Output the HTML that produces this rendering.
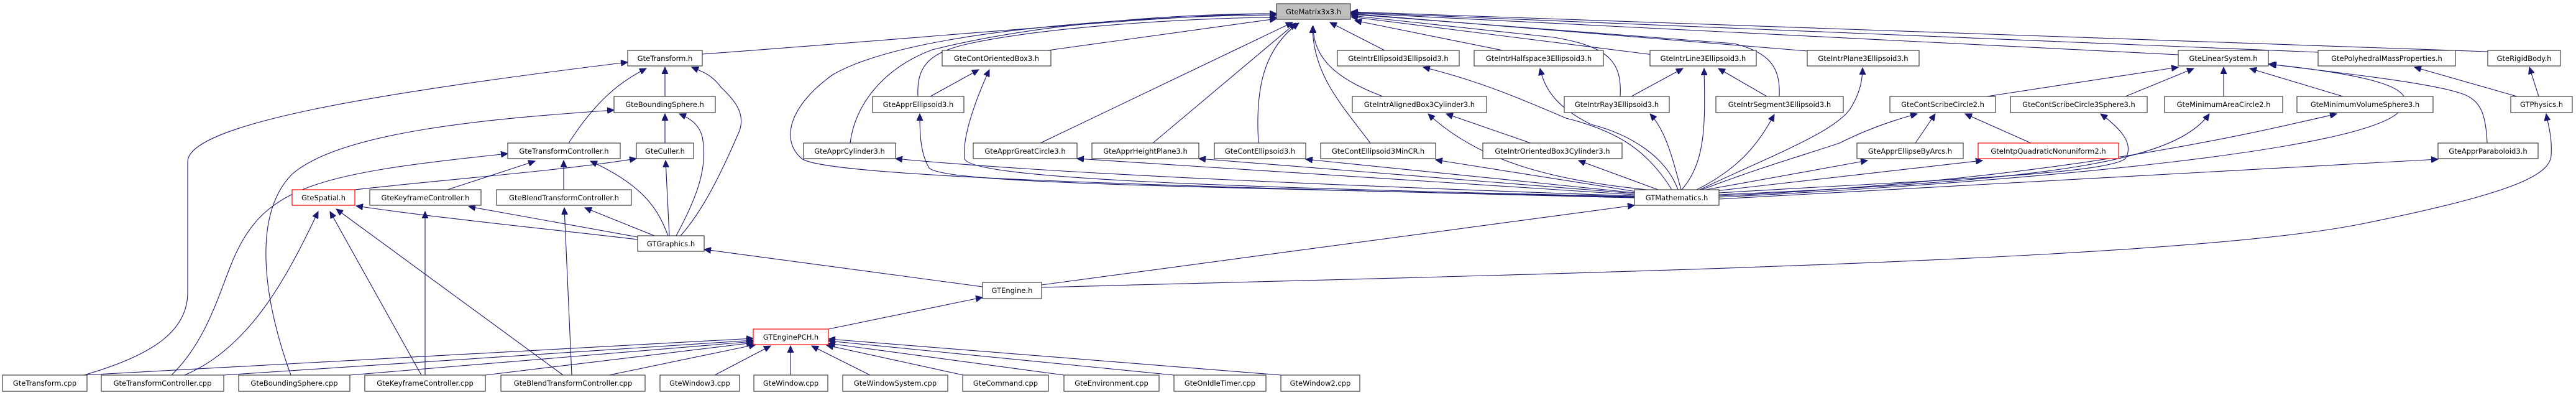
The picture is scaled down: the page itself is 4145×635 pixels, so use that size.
<!DOCTYPE html>
<html><head><meta charset="utf-8"><style>
html,body{margin:0;padding:0;background:#fff;}
svg{display:block;}
text{font-family:"DejaVu Sans","Liberation Sans",sans-serif;font-size:11.5px;fill:#000;}
.e{fill:none;stroke:#191970;stroke-width:1.1;}
rect{fill:#fff;stroke:#404040;stroke-width:1.2;}
</style></head><body>
<svg width="4145" height="635" viewBox="0 0 4145 635" xmlns="http://www.w3.org/2000/svg">
<defs><marker id="a" markerUnits="userSpaceOnUse" markerWidth="12" markerHeight="10" refX="11" refY="5" orient="auto"><path d="M0,0 L11,5 L0,10 Z" fill="#191970" stroke="#191970"/></marker></defs>
<g class="e" marker-end="url(#a)">
<path d="M1130,87 C1500,60 1900,22 2054,22"/>
<path d="M2630,318 C1900,300 1330,285 1290,255 C1255,225 1270,170 1340,120 C1480,40 1900,25 2054,24"/>
<path d="M1368,230 C1375,170 1420,110 1500,80 C1700,30 1950,22 2054,22"/>
<path d="M1686,81 L2054,30"/>
<path d="M1477,155 C1475,110 1490,85 1560,70 C1700,40 1950,28 2054,28"/>
<path d="M1674,230 L2080,36"/>
<path d="M1855,230 L2085,37"/>
<path d="M2025,230 C2020,150 2030,80 2090,37"/>
<path d="M2225,155 C2160,130 2113,100 2113,42"/>
<path d="M2205,230 C2160,170 2112,120 2112,42"/>
<path d="M2228,81 L2140,36"/>
<path d="M2418,81 L2180,33"/>
<path d="M2660,88 L2174,27"/>
<path d="M2607,155 C2610,100 2590,75 2500,60 L2174,25"/>
<path d="M2863,155 C2865,110 2850,85 2790,70 L2174,23"/>
<path d="M2908,82 L2174,22"/>
<path d="M3505,88 L2174,21"/>
<path d="M3730,84 L2174,20"/>
<path d="M4003,83 L2174,19"/>
<path d="M2630,315 C2200,300 1700,280 1441,255"/>
<path d="M2630,313 L1733,255"/>
<path d="M2630,311 L1929,255"/>
<path d="M2632,310 L2101,256"/>
<path d="M2633,308 L2310,257"/>
<path d="M2668,305 L2540,258"/>
<path d="M2650,305 C2500,290 2380,260 2298,183"/>
<path d="M2690,305 C2650,240 2600,210 2520,190 C2450,160 2380,130 2290,108"/>
<path d="M2700,305 C2680,250 2620,215 2560,200 C2500,170 2485,140 2478,110"/>
<path d="M2705,305 C2690,250 2680,210 2655,183"/>
<path d="M2706,305 C2745,260 2744,200 2742,110"/>
<path d="M2730,305 C2800,270 2830,230 2855,184"/>
<path d="M2735,305 C2850,250 2960,210 2980,170 C2992,150 2997,130 2997,109"/>
<path d="M2738,305 C2830,270 2900,250 2960,230 C3000,210 3040,195 3085,183"/>
<path d="M2745,305 L3005,258"/>
<path d="M2760,307 L3190,258"/>
<path d="M2766,310 C3100,290 3390,280 3420,255 C3435,230 3410,205 3380,183"/>
<path d="M2766,313 C3300,290 3500,260 3555,183"/>
<path d="M2766,315 C3300,290 3600,220 3760,183"/>
<path d="M2766,317 C3300,290 3800,240 3860,180 C3890,150 3860,125 3650,103"/>
<path d="M2766,320 L3923,256"/>
<path d="M2630,316 C1900,300 1560,285 1552,255 C1548,220 1570,160 1592,112"/>
<path d="M2630,317 C1900,300 1520,295 1495,270 C1480,245 1480,210 1480,183"/>
<path d="M1676,458 L2630,330"/>
<path d="M3197,155 L3505,108"/>
<path d="M3420,155 L3530,110"/>
<path d="M3578,155 L3578,108"/>
<path d="M3770,155 L3620,110"/>
<path d="M4002,230 C4000,180 3990,160 3960,150 C3900,130 3700,110 3652,103"/>
<path d="M4050,155 L3885,108"/>
<path d="M4085,155 L4070,108"/>
<path d="M1676,462 C2500,440 3500,420 3800,360 C4050,310 4103,280 4105,250 C4107,220 4100,200 4097,183"/>
<path d="M3082,230 L3114,183"/>
<path d="M3268,230 L3162,183"/>
<path d="M2625,155 L2708,110"/>
<path d="M2843,155 L2765,110"/>
<path d="M1497,155 L1575,112"/>
<path d="M2463,230 L2327,183"/>
<path d="M1070,155 L1070,108"/>
<path d="M1070,230 L1070,183"/>
<path d="M915,230 C960,160 1000,130 1040,110"/>
<path d="M907,305 L907,258"/>
<path d="M720,305 L861,259"/>
<path d="M1095,379 C1130,340 1160,280 1190,210 C1200,180 1180,160 1160,140 C1145,120 1130,115 1113,108"/>
<path d="M1088,379 C1120,320 1140,270 1130,220 C1125,200 1110,190 1093,183"/>
<path d="M1077,379 L1071,258"/>
<path d="M1075,379 C1060,340 1040,300 950,259"/>
<path d="M1053,379 L941,334"/>
<path d="M1026,381 L754,332"/>
<path d="M1026,385 C900,370 700,350 573,331"/>
<path d="M571,305 C700,290 900,275 1024,255"/>
<path d="M135,603 C250,570 302,530 302,470 L302,260 C302,200 600,150 1010,100"/>
<path d="M276,603 C330,550 350,480 370,430 C420,300 500,280 817,247"/>
<path d="M468,603 C430,500 400,350 470,280 C550,210 800,190 988,177"/>
<path d="M297,603 C400,560 460,450 512,340"/>
<path d="M678,603 L531,340"/>
<path d="M906,603 L541,336"/>
<path d="M684,603 L684,340"/>
<path d="M920,603 L908,334"/>
<path d="M1581,461 L1133,401"/>
<path d="M1333,529 L1581,478"/>
<path d="M135,603 L1212,544"/>
<path d="M360,603 L1212,547"/>
<path d="M563,603 L1212,549"/>
<path d="M781,603 L1212,551"/>
<path d="M980,603 L1216,554"/>
<path d="M1150,603 L1240,556"/>
<path d="M1272,603 L1272,556"/>
<path d="M1400,603 L1306,556"/>
<path d="M1550,603 L1330,555"/>
<path d="M1712,603 L1333,552"/>
<path d="M1889,603 L1333,548"/>
<path d="M2061,603 L1333,545"/>
</g>
<g>
<rect x="2054" y="6" width="119" height="25" style="fill:#bfbfbf"/><text x="2113.5" y="23" text-anchor="middle">GteMatrix3x3.h</text>
<rect x="1010" y="81" width="120" height="25"/><text x="1070" y="98" text-anchor="middle">GteTransform.h</text>
<rect x="1516" y="81" width="175" height="25"/><text x="1603.5" y="98" text-anchor="middle">GteContOrientedBox3.h</text>
<rect x="2152" y="81" width="196" height="25"/><text x="2250" y="98" text-anchor="middle">GteIntrEllipsoid3Ellipsoid3.h</text>
<rect x="2372" y="81" width="208" height="25"/><text x="2476" y="98" text-anchor="middle">GteIntrHalfspace3Ellipsoid3.h</text>
<rect x="2655" y="81" width="171" height="25"/><text x="2740.5" y="98" text-anchor="middle">GteIntrLine3Ellipsoid3.h</text>
<rect x="2908" y="81" width="180" height="25"/><text x="2998" y="98" text-anchor="middle">GteIntrPlane3Ellipsoid3.h</text>
<rect x="3505" y="81" width="145" height="25"/><text x="3577.5" y="98" text-anchor="middle">GteLinearSystem.h</text>
<rect x="3730" y="81" width="221" height="25"/><text x="3840.5" y="98" text-anchor="middle">GtePolyhedralMassProperties.h</text>
<rect x="4003" y="81" width="117" height="25"/><text x="4061.5" y="98" text-anchor="middle">GteRigidBody.h</text>
<rect x="988" y="155" width="163" height="26"/><text x="1069.5" y="172" text-anchor="middle">GteBoundingSphere.h</text>
<rect x="1404" y="155" width="147" height="26"/><text x="1477.5" y="172" text-anchor="middle">GteApprEllipsoid3.h</text>
<rect x="2176" y="155" width="216" height="26"/><text x="2284" y="172" text-anchor="middle">GteIntrAlignedBox3Cylinder3.h</text>
<rect x="2517" y="155" width="169" height="26"/><text x="2601.5" y="172" text-anchor="middle">GteIntrRay3Ellipsoid3.h</text>
<rect x="2761" y="155" width="205" height="26"/><text x="2863.5" y="172" text-anchor="middle">GteIntrSegment3Ellipsoid3.h</text>
<rect x="3041" y="155" width="170" height="26"/><text x="3126" y="172" text-anchor="middle">GteContScribeCircle2.h</text>
<rect x="3235" y="155" width="220" height="26"/><text x="3345" y="172" text-anchor="middle">GteContScribeCircle3Sphere3.h</text>
<rect x="3483" y="155" width="190" height="26"/><text x="3578" y="172" text-anchor="middle">GteMinimumAreaCircle2.h</text>
<rect x="3696" y="155" width="219" height="26"/><text x="3805.5" y="172" text-anchor="middle">GteMinimumVolumeSphere3.h</text>
<rect x="4040" y="155" width="99" height="26"/><text x="4089.5" y="172" text-anchor="middle">GTPhysics.h</text>
<rect x="817" y="230" width="181" height="25"/><text x="907.5" y="247" text-anchor="middle">GteTransformController.h</text>
<rect x="1024" y="230" width="92" height="25"/><text x="1070" y="247" text-anchor="middle">GteCuller.h</text>
<rect x="1293" y="230" width="148" height="25"/><text x="1367" y="247" text-anchor="middle">GteApprCylinder3.h</text>
<rect x="1566" y="230" width="167" height="25"/><text x="1649.5" y="247" text-anchor="middle">GteApprGreatCircle3.h</text>
<rect x="1757" y="230" width="172" height="25"/><text x="1843" y="247" text-anchor="middle">GteApprHeightPlane3.h</text>
<rect x="1954" y="230" width="147" height="25"/><text x="2027.5" y="247" text-anchor="middle">GteContEllipsoid3.h</text>
<rect x="2125" y="230" width="185" height="25"/><text x="2217.5" y="247" text-anchor="middle">GteContEllipsoid3MinCR.h</text>
<rect x="2386" y="230" width="224" height="25"/><text x="2498" y="247" text-anchor="middle">GteIntrOrientedBox3Cylinder3.h</text>
<rect x="2988" y="230" width="171" height="25"/><text x="3073.5" y="247" text-anchor="middle">GteApprEllipseByArcs.h</text>
<rect x="3183" y="230" width="226" height="25" style="stroke:#ff0000"/><text x="3296" y="247" text-anchor="middle">GteIntpQuadraticNonuniform2.h</text>
<rect x="3923" y="230" width="161" height="25"/><text x="4003.5" y="247" text-anchor="middle">GteApprParaboloid3.h</text>
<rect x="470" y="305" width="101" height="25" style="stroke:#ff0000"/><text x="520.5" y="322" text-anchor="middle">GteSpatial.h</text>
<rect x="595" y="305" width="179" height="25"/><text x="684.5" y="322" text-anchor="middle">GteKeyframeController.h</text>
<rect x="799" y="305" width="217" height="25"/><text x="907.5" y="322" text-anchor="middle">GteBlendTransformController.h</text>
<rect x="2630" y="305" width="136" height="25"/><text x="2698" y="322" text-anchor="middle">GTMathematics.h</text>
<rect x="1026" y="379" width="107" height="25"/><text x="1079.5" y="396" text-anchor="middle">GTGraphics.h</text>
<rect x="1581" y="454" width="95" height="26"/><text x="1628.5" y="471" text-anchor="middle">GTEngine.h</text>
<rect x="1212" y="529" width="121" height="25" style="stroke:#ff0000"/><text x="1272.5" y="546" text-anchor="middle">GTEnginePCH.h</text>
<rect x="4" y="603" width="136" height="26"/><text x="72" y="620" text-anchor="middle">GteTransform.cpp</text>
<rect x="163" y="603" width="197" height="26"/><text x="261.5" y="620" text-anchor="middle">GteTransformController.cpp</text>
<rect x="384" y="603" width="179" height="26"/><text x="473.5" y="620" text-anchor="middle">GteBoundingSphere.cpp</text>
<rect x="587" y="603" width="194" height="26"/><text x="684" y="620" text-anchor="middle">GteKeyframeController.cpp</text>
<rect x="806" y="603" width="232" height="26"/><text x="922" y="620" text-anchor="middle">GteBlendTransformController.cpp</text>
<rect x="1062" y="603" width="128" height="26"/><text x="1126" y="620" text-anchor="middle">GteWindow3.cpp</text>
<rect x="1213" y="603" width="119" height="26"/><text x="1272.5" y="620" text-anchor="middle">GteWindow.cpp</text>
<rect x="1356" y="603" width="169" height="26"/><text x="1440.5" y="620" text-anchor="middle">GteWindowSystem.cpp</text>
<rect x="1549" y="603" width="138" height="26"/><text x="1618" y="620" text-anchor="middle">GteCommand.cpp</text>
<rect x="1712" y="603" width="153" height="26"/><text x="1788.5" y="620" text-anchor="middle">GteEnvironment.cpp</text>
<rect x="1889" y="603" width="148" height="26"/><text x="1963" y="620" text-anchor="middle">GteOnIdleTimer.cpp</text>
<rect x="2061" y="603" width="127" height="26"/><text x="2124.5" y="620" text-anchor="middle">GteWindow2.cpp</text>
</g>
</svg>
</body></html>
